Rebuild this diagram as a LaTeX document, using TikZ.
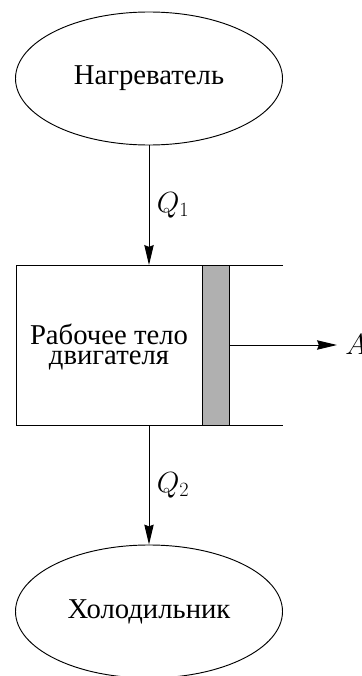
\documentclass[tikz,border=0pt]{standalone}
\usepackage{fontspec}
\setmainfont{Liberation Serif}
\usetikzlibrary{arrows.meta,positioning,shapes.geometric}
\definecolor{pistongray}{RGB}{176,176,176}
\tikzset{
    reservoir/.style={draw,ellipse,line width=0.8pt,minimum width=8.01cm,minimum height=3.99cm,inner sep=0pt,font=\fontsize{24.5}{24.5}\selectfont},
    wall/.style={line width=0.8pt},
    flowvec/.style={-{Stealth[length=17pt,width=8pt,inset=1.5pt]},line width=0.8pt},
    caption/.style={font=\fontsize{24}{24}\selectfont}
}
\begin{document}
\begin{tikzpicture}[x=0.03cm,y=-0.03cm]
    \useasboundingbox (0,0) rectangle (361,676);
    % Reservoirs
    \node[reservoir] (heater) at (149,78.5) {Нагреватель};
    \node[reservoir] (cooler) at (149,611.5) {Холодильник};
    % Cylinder
    \coordinate (top) at (149,265);
    \coordinate (bottom) at (149,425);
    \draw[wall] (283,265) -- (16,265) -- (16,425) -- (283,425);
    \draw[wall,fill=pistongray] (202,265) rectangle (229,425);
    \node[align=center,font=\fontsize{24.5}{17}\selectfont] (body) at (109,347) {Рабочее тело\\двигателя};
    % Flows
    \draw[flowvec] (heater) -- (top);
    \draw[flowvec] (bottom) -- (cooler);
    \coordinate (rod) at (229,345);
    \node[caption,anchor=west,inner xsep=7pt,inner ysep=0pt] (work) at (337,345) {$A$};
    \draw[flowvec] (rod) -- (work);
    \node[caption] (qin) at (173,205) {$Q_1$};
    \node[caption] (qout) at (173,485) {$Q_2$};
\end{tikzpicture}
\end{document}
